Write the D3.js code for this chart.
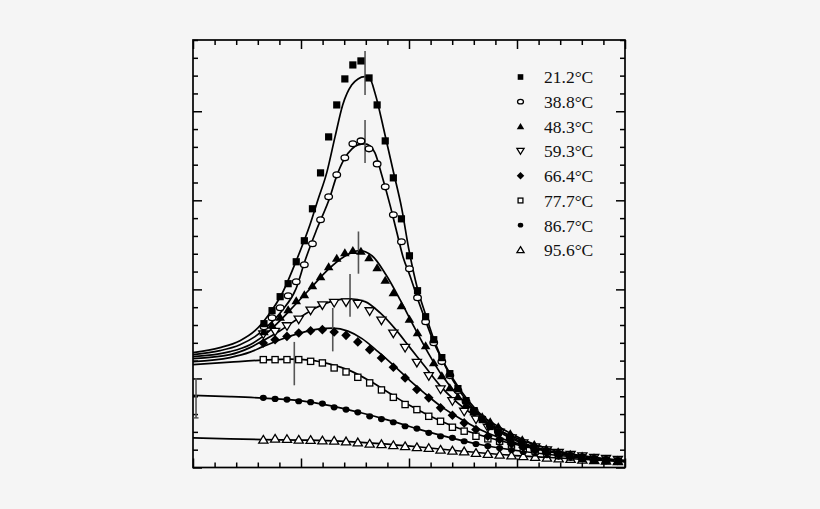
<!DOCTYPE html>
<html><head><meta charset="utf-8">
<script src="https://cdn.jsdelivr.net/npm/d3@7"></script>
<style>html,body{margin:0;padding:0;background:#f5f5f5;}svg{display:block;}</style>
</head><body><svg id="c" width="820" height="509"></svg>
<script>
// ---- data ----
const labels = ["21.2°C","38.8°C","48.3°C","59.3°C","66.4°C","77.7°C","86.7°C","95.6°C"];
const symbols = ["square","circle","triangleUp","triangleDown","diamond","openSquare","dot","openTriangleUp"];

const xA = [0.657,0.732,0.807,0.881,0.956,1.031,1.106,1.181,1.256,1.331,1.406,1.480,1.555,1.630,1.705,1.780,1.855,1.930,2.004,2.079,2.154,2.229,2.304,2.378,2.453,2.528,2.603,2.678,2.752,2.827,2.938,3.049,3.160,3.271,3.381,3.493,3.603,3.713,3.824,3.934];
const xB = [0.651,0.760,0.870,0.979,1.089,1.198,1.307,1.417,1.526,1.636,1.745,1.855,1.964,2.073,2.183,2.292,2.402,2.511,2.620,2.730,2.839,2.949,3.058,3.168,3.277,3.386,3.496,3.605,3.715,3.824,3.934];

const y1 = [1.615,1.761,1.918,2.064,2.310,2.546,2.905,3.308,3.712,4.071,4.363,4.520,4.565,4.374,4.071,3.667,3.252,2.792,2.377,1.985,1.693,1.435,1.234,1.054,0.886,0.751,0.639,0.538,0.460,0.393,0.314,0.258,0.213,0.179,0.151,0.129,0.112,0.095,0.084,0.073];
const y2 = [1.581,1.682,1.794,1.929,2.086,2.277,2.512,2.781,3.039,3.286,3.477,3.634,3.667,3.578,3.409,3.151,2.837,2.535,2.232,1.907,1.637,1.402,1.189,1.032,0.864,0.740,0.639,0.550,0.471,0.404,0.325,0.269,0.224,0.185,0.157,0.135,0.118,0.101,0.090,0.079];
const y3 = [1.525,1.598,1.688,1.772,1.873,1.940,2.041,2.142,2.254,2.350,2.411,2.439,2.428,2.355,2.243,2.103,1.963,1.817,1.665,1.514,1.368,1.178,1.032,0.897,0.796,0.707,0.628,0.572,0.516,0.460,0.381,0.314,0.258,0.213,0.179,0.151,0.129,0.112,0.095,0.079];
const y4 = [1.492,1.522,1.585,1.660,1.761,1.820,1.847,1.854,1.836,1.753,1.649,1.503,1.342,1.174,1.024,0.875,0.744,0.625,0.538,0.445,0.389,0.325,0.269,0.224,0.191,0.163,0.140,0.123,0.107,0.095,0.084];
const y5 = [1.398,1.435,1.472,1.511,1.536,1.548,1.522,1.484,1.410,1.323,1.230,1.125,1.006,0.875,0.782,0.670,0.587,0.501,0.426,0.351,0.314,0.264,0.224,0.191,0.163,0.140,0.123,0.107,0.095,0.084,0.079];
const y6 = [1.211,1.211,1.211,1.211,1.192,1.174,1.118,1.073,1.013,0.950,0.871,0.788,0.707,0.650,0.575,0.519,0.452,0.408,0.351,0.322,0.295,0.252,0.213,0.185,0.157,0.135,0.118,0.101,0.090,0.079,0.073];
const y7 = [0.782,0.770,0.763,0.744,0.733,0.718,0.676,0.650,0.620,0.575,0.544,0.508,0.463,0.437,0.389,0.351,0.333,0.295,0.264,0.241,0.219,0.196,0.174,0.157,0.140,0.123,0.112,0.101,0.090,0.079,0.073];
const y8 = [0.314,0.325,0.322,0.314,0.311,0.306,0.303,0.295,0.284,0.269,0.264,0.252,0.241,0.230,0.221,0.202,0.191,0.183,0.165,0.154,0.146,0.138,0.129,0.120,0.112,0.104,0.098,0.090,0.084,0.079,0.073];

// fitted curves
const fx1 = [0,0.250,0.435,0.574,0.694,0.824,0.960,1.083,1.157,1.238,1.315,1.386,1.469,1.528,1.590,1.639,1.685,1.778,1.855,1.932,2.000,2.074,2.154,2.231,2.343,2.472,2.620,2.806,3.028,3.306,3.676,4.000];
const fy1 = [1.290,1.346,1.424,1.536,1.705,1.951,2.333,2.725,3.006,3.308,3.712,4.071,4.295,4.363,4.388,4.363,4.206,3.734,3.323,2.912,2.440,2.030,1.716,1.435,1.121,0.852,0.628,0.426,0.280,0.179,0.101,0.067];
const fx2 = [0,0.250,0.435,0.574,0.694,0.824,0.954,1.037,1.148,1.269,1.324,1.401,1.472,1.528,1.590,1.639,1.685,1.747,1.824,1.886,1.947,2.009,2.083,2.157,2.231,2.343,2.472,2.620,2.806,3.028,3.306,3.676,4.000];
const fy2 = [1.267,1.312,1.379,1.469,1.592,1.761,2.007,2.321,2.680,3.039,3.252,3.465,3.577,3.622,3.634,3.611,3.533,3.286,2.949,2.647,2.355,2.153,1.884,1.637,1.402,1.133,0.875,0.650,0.449,0.292,0.185,0.107,0.073];
const fx3 = [0,0.343,0.528,0.657,0.806,0.954,1.102,1.250,1.398,1.537,1.657,1.787,1.917,2.046,2.176,2.306,2.472,2.657,2.843,3.120,3.491,4.000];
const fy3 = [1.245,1.301,1.379,1.480,1.649,1.839,2.030,2.221,2.366,2.434,2.378,2.164,1.884,1.581,1.290,1.032,0.785,0.594,0.449,0.280,0.151,0.073];
const fx4 = [0,0.343,0.528,0.648,0.806,0.972,1.139,1.306,1.454,1.593,1.731,1.870,2.009,2.148,2.287,2.426,2.565,2.750,3.028,3.398,4.000];
const fy4 = [1.222,1.267,1.346,1.424,1.536,1.671,1.794,1.873,1.895,1.862,1.738,1.559,1.346,1.133,0.920,0.751,0.617,0.471,0.314,0.179,0.079];
const fx5 = [0,0.343,0.528,0.648,0.806,0.991,1.157,1.296,1.435,1.565,1.713,1.870,2.009,2.148,2.287,2.472,2.657,2.843,3.120,3.491,4.000];
const fy5 = [1.189,1.234,1.295,1.357,1.435,1.508,1.553,1.564,1.531,1.447,1.301,1.133,0.976,0.830,0.695,0.550,0.426,0.331,0.230,0.140,0.073];
const fx6 = [0,0.343,0.648,0.898,1.083,1.269,1.454,1.639,1.824,2.009,2.194,2.380,2.565,2.750,3.028,3.398,4.000];
const fy6 = [1.155,1.183,1.206,1.217,1.206,1.161,1.088,0.970,0.830,0.695,0.578,0.477,0.398,0.331,0.247,0.157,0.073];
const fx7 = [0,0.343,0.648,0.991,1.269,1.546,1.824,2.102,2.380,2.657,3.028,3.491,4.000];
const fy7 = [0.811,0.796,0.779,0.751,0.695,0.617,0.527,0.426,0.336,0.258,0.185,0.123,0.073];
const fx8 = [0,0.343,0.648,0.991,1.361,1.731,2.102,2.472,2.843,3.306,4.000];
const fy8 = [0.333,0.322,0.314,0.308,0.297,0.269,0.230,0.185,0.146,0.112,0.067];

// peak markers: x, y low, y high
const peakX  = [1.593,1.593,1.532,1.454,1.294,0.938,0.028];
const peakLo = [4.183,3.420,2.176,1.693,1.304,0.923,0.557];
const peakHi = [4.676,3.903,2.650,2.172,1.791,1.410,1.006];

const xMajor = [0,1,2,3,4];
const yMajor = [0,1,2,3,4];
const minorStep = 0.2;

// ---- chart ----
const svg = d3.select("#c");
const L=193, R=625, T=40, B=467.5;
const x = d3.scaleLinear().domain([0,4]).range([L,R]);
const y = d3.scaleLinear().domain([0,4.8]).range([B,T]);

svg.append("rect").attr("width",820).attr("height",509).attr("fill","#f5f5f5");

const xMinor = d3.range(0, 4.0001, minorStep).map(v=>+v.toFixed(2)).filter(v=>!xMajor.includes(v));
const yMinor = d3.range(0, 4.8001, minorStep).map(v=>+v.toFixed(2)).filter(v=>!yMajor.includes(v));

function ax(gen, vals, size, tr){
  const g = svg.append("g").attr("transform",tr)
    .call(gen.tickValues(vals).tickSize(-size).tickFormat(""));
  g.select(".domain").remove();
  g.selectAll("line").attr("stroke","#000").attr("stroke-width",1.5);
}
ax(d3.axisBottom(x), xMinor, 5, `translate(0,${B})`);
ax(d3.axisBottom(x), xMajor, 9, `translate(0,${B})`);
ax(d3.axisTop(x), xMinor, 5, `translate(0,${T})`);
ax(d3.axisTop(x), xMajor, 9, `translate(0,${T})`);
ax(d3.axisLeft(y), yMinor, 5, `translate(${L},0)`);
ax(d3.axisLeft(y), yMajor, 9, `translate(${L},0)`);
ax(d3.axisRight(y), yMinor, 5, `translate(${R},0)`);
ax(d3.axisRight(y), yMajor, 9, `translate(${R},0)`);

svg.append("rect").attr("x",L).attr("y",T).attr("width",R-L).attr("height",B-T)
  .attr("fill","none").attr("stroke","#000").attr("stroke-width",1.7);

const fits = [[fx1,fy1],[fx2,fy2],[fx3,fy3],[fx4,fy4],[fx5,fy5],[fx6,fy6],[fx7,fy7],[fx8,fy8]];
const line = d3.line().x(d=>x(d[0])).y(d=>y(d[1])).curve(d3.curveMonotoneX);
fits.forEach(([fx,fy])=>{
  svg.append("path").attr("d", line(fx.map((v,i)=>[v,fy[i]])))
    .attr("fill","none").attr("stroke","#000").attr("stroke-width",1.7);
});

// peak lines
peakX.forEach((px,i)=>{
  svg.append("line").attr("x1",x(px)).attr("x2",x(px)).attr("y1",y(peakLo[i])).attr("y2",y(peakHi[i]))
    .attr("stroke","#555").attr("stroke-width",1.6);
});
svg.append("line").attr("x1",x(peakX[6])-2.5).attr("x2",x(peakX[6])+2.5)
  .attr("y1",y(peakLo[6])).attr("y2",y(peakLo[6])).attr("stroke","#555").attr("stroke-width",1.5);

function marker(g, type, cx, cy, s){
  const fill = "#000", open = "#fff", sw = 1.3;
  switch(type){
    case "square": g.append("rect").attr("x",cx-3.6*s).attr("y",cy-3.6*s).attr("width",7.2*s).attr("height",7.2*s).attr("fill",fill); break;
    case "circle": g.append("ellipse").attr("cx",cx).attr("cy",cy).attr("rx",3.8*s).attr("ry",2.9*s).attr("fill",open).attr("stroke","#000").attr("stroke-width",sw); break;
    case "triangleUp": g.append("path").attr("d",`M${cx},${cy-4.4*s}L${cx+4.8*s},${cy+3.6*s}L${cx-4.8*s},${cy+3.6*s}Z`).attr("fill",fill); break;
    case "triangleDown": g.append("path").attr("d",`M${cx},${cy+4*s}L${cx+4.6*s},${cy-3.6*s}L${cx-4.6*s},${cy-3.6*s}Z`).attr("fill",open).attr("stroke","#000").attr("stroke-width",sw); break;
    case "diamond": g.append("path").attr("d",`M${cx},${cy-4.8*s}L${cx+4.8*s},${cy}L${cx},${cy+4.8*s}L${cx-4.8*s},${cy}Z`).attr("fill",fill); break;
    case "openSquare": g.append("rect").attr("x",cx-3.1*s).attr("y",cy-3.1*s).attr("width",6.2*s).attr("height",6.2*s).attr("fill",open).attr("stroke","#000").attr("stroke-width",sw); break;
    case "dot": g.append("ellipse").attr("cx",cx).attr("cy",cy).attr("rx",3.5*s).attr("ry",3.1*s).attr("fill",fill); break;
    case "openTriangleUp": g.append("path").attr("d",`M${cx},${cy-4.1*s}L${cx+4.6*s},${cy+3.6*s}L${cx-4.6*s},${cy+3.6*s}Z`).attr("fill",open).attr("stroke","#000").attr("stroke-width",sw); break;
  }
}

const series = [[xA,y1],[xA,y2],[xA,y3],[xB,y4],[xB,y5],[xB,y6],[xB,y7],[xB,y8]];
for (let i = series.length-1; i>=0; i--){
  const g = svg.append("g");
  const [xs, ys] = series[i];
  xs.forEach((v,j)=>marker(g, symbols[i], x(v), y(ys[j]), 1));
}

// legend
const lg = svg.append("g");
labels.forEach((t,i)=>{
  const cy = 77 + 24.7*i;
  marker(lg, symbols[i], 520.5, cy, 0.78);
  lg.append("text").attr("x",544).attr("y",cy).attr("dy","0.36em")
    .attr("font-family","'Liberation Serif','Times New Roman',serif").attr("font-size",17.5)
    .attr("fill","#111").text(t);
});
</script></body></html>
